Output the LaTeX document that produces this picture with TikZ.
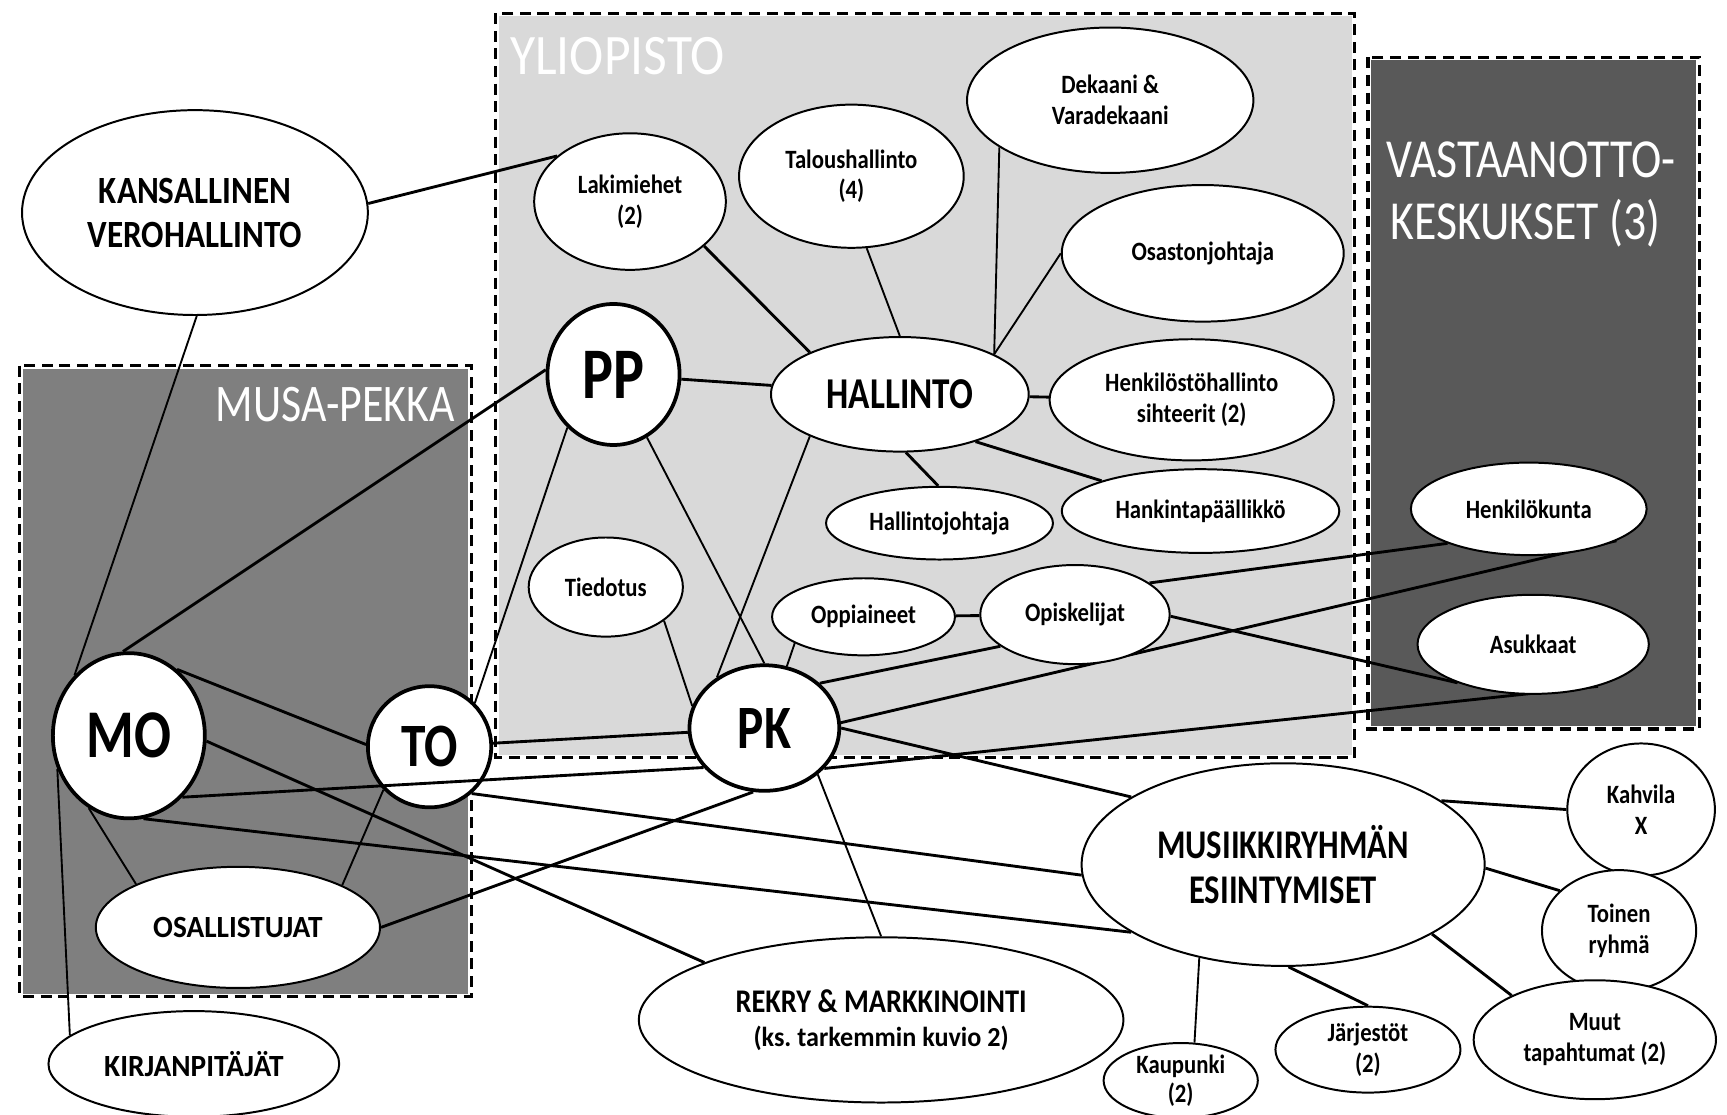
\documentclass[tikz,border=0pt]{standalone}
\usepackage{fontspec}
\newfontfamily\cf[FakeStretch=0.8]{Carlito}
\newfontfamily\cm[FakeStretch=0.86]{Carlito}
\newfontfamily\cw[FakeStretch=0.95]{Carlito}
\newfontfamily\cl[FakeStretch=0.9]{Carlito}
\newfontfamily\clc[FakeStretch=0.83]{Carlito}
\usetikzlibrary{shapes.geometric}
\pgfdeclarelayer{bg}
\pgfdeclarelayer{edges}
\pgfsetlayers{bg,edges,main}
\newcommand\fsz[2]{\fontsize{#1}{#2}\selectfont}
\definecolor{uni}{HTML}{D9D9D9}
\definecolor{mus}{HTML}{7F7F7F}
\definecolor{vas}{HTML}{595959}
\begin{document}
\begin{tikzpicture}[x=1pt,y=-1pt,
  ell/.style={ellipse, draw=black, line width=1.8pt, fill=white, inner sep=0pt, align=center, text=black, font=\cm\bfseries\fsz{24}{28}},
  hub/.style={ell, line width=3.4pt},
  thk/.style={line width=2.6pt},
  thn/.style={line width=1.7pt},
  boxborder/.style={line width=3pt, dash pattern=on 10pt off 6pt},
  boxlab/.style={text=white, inner sep=0pt, font=\cl\fsz{52}{56}}]
\useasboundingbox (0,0) rectangle (1568,1012);

% nodes
\node[ell, font=\cm\bfseries\fsz{35}{40}, minimum width=314pt, minimum height=186pt] (kv) at (177,193) {KANSALLINEN\\VEROHALLINTO};
\node[ell, minimum width=174pt, minimum height=124pt] (lak) at (572,183) {Lakimiehet\\(2)};
\node[ell, minimum width=204pt, minimum height=130pt] (tal) at (773,160) {Taloushallinto\\(4)};
\node[ell, minimum width=260pt, minimum height=132pt] (dek) at (1008,91) {Dekaani \&\\Varadekaani};
\node[ell, minimum width=256pt, minimum height=124pt] (ost) at (1092,230) {Osastonjohtaja};
\node[ell, font=\cf\bfseries\fsz{40}{44}, minimum width=234pt, minimum height=104pt] (hal) at (817,358) {HALLINTO};
\node[ell, minimum width=258pt, minimum height=110pt] (hsh) at (1082,363) {Henkilöstöhallinto\\sihteerit (2)};
\node[ell, minimum width=252pt, minimum height=76pt] (hank) at (1090,464) {Hankintapäällikkö};
\node[ell, minimum width=206pt, minimum height=66pt] (hj) at (853,475) {Hallintojohtaja};
\node[hub, font=\cf\bfseries\fsz{66}{70}, minimum width=120pt, minimum height=128pt] (pp) at (557,340) {PP};
\node[ell, minimum width=140pt, minimum height=90pt] (tied) at (550,533) {Tiedotus};
\node[ell, minimum width=166pt, minimum height=70pt] (opp) at (784,560) {Oppiaineet};
\node[ell, minimum width=172pt, minimum height=90pt] (opi) at (976,558) {Opiskelijat};
\node[hub, font=\cf\bfseries\fsz{56}{60}, minimum width=136pt, minimum height=114pt] (pk) at (694,661) {PK};
\node[hub, font=\cf\bfseries\fsz{56}{60}, minimum width=112pt, minimum height=110pt] (to) at (390,678) {TO};
\node[hub, font=\cf\bfseries\fsz{62}{66}, minimum width=138pt, minimum height=150pt] (mo) at (117,668) {MO};
\node[ell, font=\cw\bfseries\fsz{28}{30}, minimum width=258pt, minimum height=110pt] (osa) at (216,842) {OSALLISTUJAT};
\node[ell, font=\cw\bfseries\fsz{28}{30}, minimum width=264pt, minimum height=96pt] (kir) at (176,966) {KIRJANPITÄJÄT};
\node[ell, font=\cm\bfseries\fsz{30}{31}, minimum width=440pt, minimum height=150pt] (rek) at (800,926) {REKRY \& MARKKINOINTI\\{\cw\fsz{25}{31}(ks.\ tarkemmin kuvio 2)}};
\node[ell, font=\cf\bfseries\fsz{37}{41}, minimum width=366pt, minimum height=184pt] (mus) at (1165,785) {MUSIIKKIRYHMÄN\\ESIINTYMISET};
\node[ell, minimum width=134pt, minimum height=120pt] (kah) at (1490,735) {Kahvila\\X};
\node[ell, minimum width=140pt, minimum height=110pt] (toi) at (1470,845) {Toinen\\ryhmä};
\node[ell, minimum width=220pt, minimum height=108pt] (muu) at (1448,944) {Muut\\tapahtumat (2)};
\node[ell, minimum width=168pt, minimum height=78pt] (jar) at (1242,953) {Järjestöt\\(2)};
\node[ell, font=\cm\bfseries\fsz{24}{26}, minimum width=140pt, minimum height=68pt] (kau) at (1072,981) {Kaupunki\\(2)};
\node[ell, minimum width=214pt, minimum height=84pt] (hk) at (1388,462) {Henkilökunta};
\node[ell, minimum width=210pt, minimum height=90pt] (asu) at (1392,585) {Asukkaat};

% boxes
\begin{pgfonlayer}{bg}
\fill[uni] (450,12) rectangle (1230,688);
\fill[vas] (1242,52) rectangle (1543,662);
\fill[mus] (18,332) rectangle (428,905);
\foreach \r in {{(450,12) rectangle (1230,688)},{(1242,52) rectangle (1543,662)},{(18,332) rectangle (428,905)}}{
  \draw[white, line width=5.5pt] \r;
  \draw[boxborder] \r;
}
\node[boxlab, anchor=base west] (ylab) at (463,68) {YLIOPISTO};
\node[boxlab, anchor=base east, font=\clc\fsz{48}{52}] (mlab) at (413,383) {MUSA-PEKKA};
\node[boxlab, anchor=base, font=\clc\fsz{50}{56}] (vlab1) at (1390,161) {VASTAANOTTO-};
\node[boxlab, anchor=base, font=\clc\fsz{50}{56}] (vlab2) at (1385,217) {KESKUKSET (3)};
\end{pgfonlayer}

% connectors
\begin{pgfonlayer}{edges}
\draw[thk] (kv.3) -- (lak.148);
\draw[thn] (kv.-89) -- (mo.132);
\draw[thn] (mo.205) -- (kir.167);
\draw[thk] (mo.94) -- (pp.176);
\draw[thk] (mo.54) -- (to.178);
\draw[thk] (mo.-4) -- (rek.162);
\draw[thk] (mo.-80) -- (mus.204.5);
\draw[thn] (mo.241) -- (osa.157);
\draw[thn] (to.44) -- (pp.229);
\draw[thk] (to) -- (pk);
\draw[thk] (to.-48) -- (mus.183);
\draw[thn] (to.223) -- (osa.22);
\draw[thk] (osa.0) -- (pk.260);
\draw[thk] (pp) -- (hal);
\draw[thn] (pp.-62) -- (pk.90);
\draw[thn] (tied.-30) -- (pk.163);
\draw[thn] (hal.205) -- (pk.133);
\draw[thn] (opp.201) -- (pk.70);
\draw[thk] (pk.39) -- (opi.203);
\draw[thk] (pk.4) -- (hk.-20);
\draw[thk] (pk.-34) -- (asu.-33);
\draw[thk] (pk.0) -- (mus.156.5);
\draw[thn] (pk.-41) -- (rek.90);
\draw[thk] (opp) -- (opi);
\draw[thk] (opi.23) -- (hk.203);
\draw[thk] (opi.-1) -- (asu.207);
\draw[thk] (lak.-31) -- (hal.155);
\draw[thn] (tal.-78) -- (hal.90);
\draw[thn] (dek.203) -- (hal.23);
\draw[thn] (ost.180) -- (hal.23);
\draw[thk] (hal) -- (hsh);
\draw[thk] (hal.-32) -- (hank.163);
\draw[thk] (hal.-84) -- (hj.92);
\draw[thk] (mus.22) -- (kah.180);
\draw[thk] (mus.-1) -- (toi.146);
\draw[thk] (mus.-25) -- (muu.152);
\draw[thk] (mus.-87) -- (jar.90);
\draw[thn] (mus.228) -- (kau.70);
\end{pgfonlayer}
\draw[thk] (mo.-49) -- (pk.213);
\end{tikzpicture}
\end{document}
